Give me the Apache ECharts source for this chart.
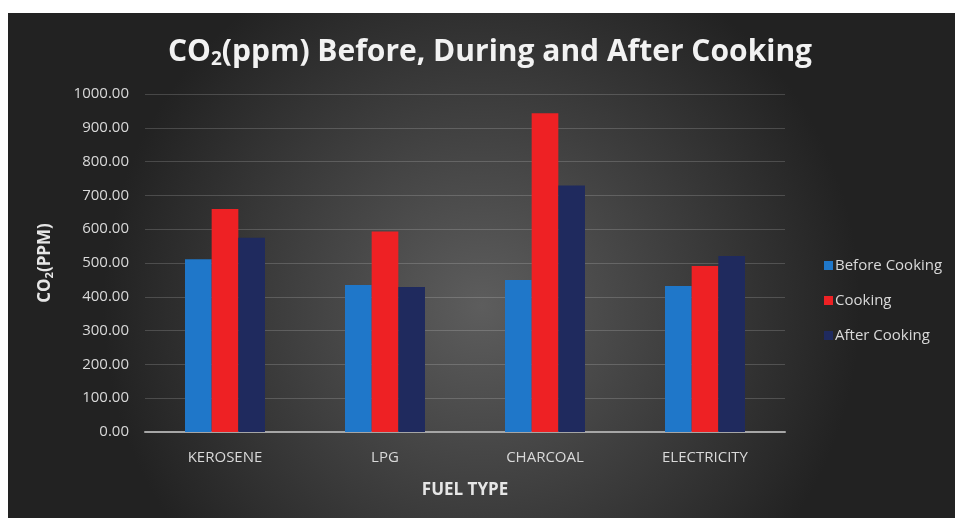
<!DOCTYPE html>
<html>
<head>
<meta charset="utf-8">
<script src="https://cdn.jsdelivr.net/npm/echarts@6/dist/echarts.min.js"></script>
<style>html,body{margin:0;padding:0;background:#fff}#c{width:955px;height:518px}</style>
</head>
<body>
<div id="c"></div>
<script>
const categories = ['KEROSENE', 'LPG', 'CHARCOAL', 'ELECTRICITY'];
const seriesNames = ['Before Cooking', 'Cooking', 'After Cooking'];
const beforeCooking = [511, 435, 450, 432];
const cooking = [660, 593, 943, 491];
const afterCooking = [575, 429, 729, 521];
const seriesColors = ['#1f77c9', '#ee2124', '#1f2a5e'];
const yTicks = { min: 0, max: 1000, interval: 100 };

const FONT = '"Open Sans", "Noto Sans", sans-serif';
const chart = echarts.init(document.getElementById('c'));
const values = [beforeCooking, cooking, afterCooking];

chart.setOption({
  backgroundColor: '#ffffff',
  graphic: [{
    type: 'rect', z: -100, silent: true,
    shape: { x: 8, y: 13, width: 947, height: 505 },
    style: {
      fill: new echarts.graphic.RadialGradient(0.5, 0.58, 0.75, [
        { offset: 0, color: '#5d5d5d' },
        { offset: 1, color: '#222222' }
      ])
    }
  }],
  title: {
    text: '{a|CO}{s|2}{a|(ppm) Before, During and After Cooking}',
    left: 485, top: 30, textAlign: 'center',
    textStyle: {
      rich: {
        a: { fontFamily: FONT, fontWeight: 'bold', fontSize: 30, color: '#f2f2f2' },
        s: { fontFamily: FONT, fontWeight: 'bold', fontSize: 19, color: '#f2f2f2', padding: [15, 0, 0, 0] }
      }
    }
  },
  legend: {
    orient: 'vertical', left: 819, top: 253,
    itemWidth: 9, itemHeight: 9, itemGap: 20, icon: 'rect',
    data: seriesNames,
    textStyle: { fontFamily: FONT, fontSize: 15, color: '#d9d9d9', padding: [0, 0, 0, -3] }
  },
  grid: { left: 145, right: 170, top: 94, bottom: 86 },
  xAxis: {
    type: 'category', data: categories,
    axisLine: { lineStyle: { color: '#a6a6a6', width: 2 } },
    axisTick: { show: false },
    axisLabel: { color: '#d9d9d9', fontFamily: FONT, fontSize: 15, margin: 18 },
    name: 'FUEL TYPE', nameLocation: 'middle', nameGap: 50,
    nameTextStyle: { color: '#e6e6e6', fontFamily: FONT, fontWeight: 'bold', fontSize: 17 }
  },
  yAxis: {
    type: 'value', min: yTicks.min, max: yTicks.max, interval: yTicks.interval,
    axisLine: { show: false }, axisTick: { show: false },
    splitLine: { lineStyle: { color: 'rgba(255,255,255,0.17)', width: 1 } },
    axisLabel: { color: '#d9d9d9', fontFamily: FONT, fontSize: 15, margin: 16,
      formatter: v => v.toFixed(2) },
    name: '{a|CO}{s|2}{a|(PPM)}', nameLocation: 'middle', nameRotate: 90, nameGap: 90,
    nameTextStyle: {
      rich: {
        a: { fontFamily: FONT, fontWeight: 'bold', fontSize: 17, color: '#e6e6e6' },
        s: { fontFamily: FONT, fontWeight: 'bold', fontSize: 11, color: '#e6e6e6', padding: [8, 0, 0, 0] }
      }
    }
  },
  series: seriesNames.map((n, i) => ({
    name: n, type: 'bar', data: values[i],
    barGap: '0%', barCategoryGap: '50%',
    itemStyle: { color: seriesColors[i] },
    animation: false
  }))
});
</script>
</body>
</html>
